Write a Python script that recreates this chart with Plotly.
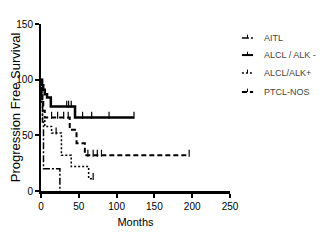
import plotly.graph_objects as go

# ---- data ----
groups = ["AITL", "ALCL / ALK -", "ALCL/ALK+", "PTCL-NOS"]

aitl_t = [0, 1, 2, 3.3, 25]
aitl_s = [100, 80, 62, 20, 0]
aitl_ct = []

alkneg_t = [0, 1.5, 3, 5, 8, 13, 45, 123]
alkneg_s = [100, 95, 91, 87, 84, 76, 66, 66]
alkneg_ct = [34, 36.5, 40, 55, 67, 90, 123]

alkpos_t = [0, 1, 2, 5, 14, 27, 40, 63, 69]
alkpos_s = [100, 82, 64, 58, 52, 32, 22, 11, 11]
alkpos_ct = [20, 69]

ptcl_t = [0, 1, 2, 3, 5, 38, 47, 58, 196]
ptcl_s = [100, 90, 80, 72, 66, 55, 43, 32, 32]
ptcl_ct = [14, 22, 30, 36, 62, 69, 74.5, 80, 196]

x_ticks = [0, 50, 100, 150, 200, 250]
y_ticks = [0, 50, 100, 150]

styles = [
    dict(color="black", width=1.5, dash="7px,2px,2px,2px"),
    dict(color="black", width=2.5),
    dict(color="black", width=1.5, dash="2px,2px"),
    dict(color="black", width=2, dash="5px,3px"),
]
series = [
    (aitl_t, aitl_s, aitl_ct),
    (alkneg_t, alkneg_s, alkneg_ct),
    (alkpos_t, alkpos_s, alkpos_ct),
    (ptcl_t, ptcl_s, ptcl_ct),
]


def surv_at(t, times, surv):
    v = surv[0]
    for tt, ss in zip(times, surv):
        if tt <= t:
            v = ss
    return v


fig = go.Figure()
for name, (t, s, ct), line in zip(groups, series, styles):
    fig.add_trace(go.Scatter(x=t, y=s, mode="lines", line_shape="hv",
                             line=line, name=name, showlegend=False))
    if ct:
        cy = [surv_at(c, t, s) + 2 for c in ct]
        fig.add_trace(go.Scatter(x=ct, y=cy, mode="markers", showlegend=False,
                                 marker=dict(symbol="line-ns", size=5,
                                             line=dict(color="black", width=1.2))))

# ---- manual legend (paper coordinates) ----
leg_x0, leg_x1, leg_tx = 1.063, 1.122, 1.17
leg_rows = [0.916, 0.814, 0.707, 0.593]
for name, line, yy in zip(groups, styles, leg_rows):
    ld = dict(color=line["color"], width=min(line["width"], 2))
    if "dash" in line:
        ld["dash"] = line["dash"]
    fig.add_shape(type="line", xref="paper", yref="paper",
                  x0=leg_x0, x1=leg_x1, y0=yy, y1=yy, line=ld)
    fig.add_shape(type="line", xref="paper", yref="paper",
                  x0=(leg_x0 + leg_x1) / 2, x1=(leg_x0 + leg_x1) / 2,
                  y0=yy, y1=yy + 0.02, line=dict(color="black", width=1))
    fig.add_annotation(x=leg_tx, y=yy, xref="paper", yref="paper", text=name,
                       showarrow=False, xanchor="left", yanchor="middle",
                       font=dict(size=9, color="#444"))

font_family = "Liberation Sans Narrow, Liberation Sans, Arial, sans-serif"

# page body has an 8px default margin, so the figure is offset by 8px
fig.update_layout(
    width=326, height=237,
    margin=dict(l=33, r=104, t=16, b=54),
    paper_bgcolor="white", plot_bgcolor="white",
    font=dict(family=font_family, color="black", size=10),
    showlegend=False,
    xaxis=dict(range=[0, 250], tickvals=x_ticks, ticktext=[str(v) for v in x_ticks],
               showgrid=False, zeroline=False, showline=True, linecolor="black",
               linewidth=3, ticks="outside", ticklen=4, tickwidth=1.5,
               tickcolor="black", tickfont=dict(size=10), automargin=False,
               title=dict(text="Months", font=dict(size=11), standoff=8)),
    yaxis=dict(range=[0, 150], tickvals=y_ticks, ticktext=[str(v) for v in y_ticks],
               showgrid=False, zeroline=False, showline=True, linecolor="black",
               linewidth=2, ticks="outside", ticklen=4, tickwidth=1.5,
               tickcolor="black", tickfont=dict(size=10), automargin=False,
               title=dict(text="Progression Free Survival", font=dict(size=13), standoff=5)),
)

fig.write_html("out.html")
